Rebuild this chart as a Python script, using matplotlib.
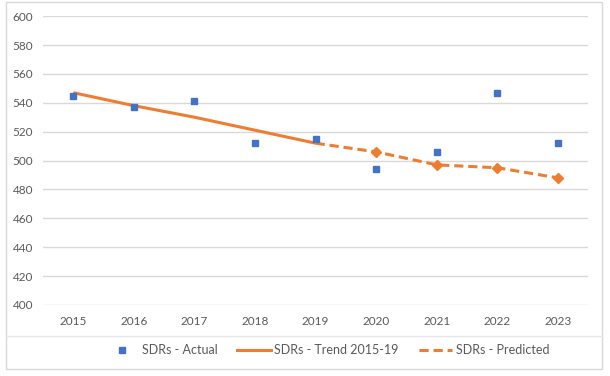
"""SDRs actual vs trend vs predicted chart."""

import matplotlib.pyplot as plt
from matplotlib.lines import Line2D
from matplotlib.patches import Rectangle

years = ['2015', '2016', '2017', '2018', '2019', '2020', '2021', '2022', '2023']
actual = [545, 537, 541, 512, 515, 494, 506, 547, 512]
trend_years = ['2015', '2016', '2017', '2018', '2019']
trend = [547, 538, 530, 521, 512]
pred_years = ['2019', '2020', '2021', '2022', '2023']
predicted = [512, 506, 497, 495, 488]

BLUE = '#4472C4'
ORANGE = '#ED7D31'
GRID = '#D9D9D9'
TEXT = '#595959'

plt.rcParams['font.family'] = ['Lato', 'DejaVu Sans']

fig = plt.figure(figsize=(6.1, 3.76), dpi=100)
ax = fig.add_axes([0.0705, 0.189, 0.894, 0.768])

x_all = list(range(len(years)))
x_trend = [years.index(y) for y in trend_years]
x_pred = [years.index(y) for y in pred_years]

ax.plot(x_pred, predicted, color=ORANGE, linewidth=2.2, linestyle=(0, (3, 1.6)),
        marker='D', markersize=5, markevery=list(range(1, len(pred_years))),
        zorder=2)
ax.plot(x_trend, trend, color=ORANGE, linewidth=2.2, solid_capstyle='butt', zorder=3)
ax.plot(x_all, actual, linestyle='none', marker='s', markersize=5,
        color=BLUE, zorder=4)

ax.set_xlim(-0.5, len(years) - 0.5)
ax.set_ylim(400, 600)
ax.set_yticks(range(400, 601, 20))
ax.set_xticks(x_all)
ax.set_xticklabels(years)
ax.grid(axis='y', color=GRID, linewidth=1)
ax.set_axisbelow(True)
for s in ax.spines.values():
    s.set_visible(False)
ax.tick_params(length=0, labelsize=8.5, colors=TEXT)
ax.tick_params(axis='x', pad=8)
ax.tick_params(axis='y', pad=7)

# chart border and legend separator
fig.patches.append(Rectangle((6 / 610, 7 / 376), 596 / 610, 367 / 376,
                             transform=fig.transFigure, fill=False,
                             edgecolor=GRID, linewidth=1))
fig.add_artist(Line2D([6 / 610, 602 / 610], [1 - 336 / 376, 1 - 336 / 376],
                      transform=fig.transFigure, color='#E6E6E6', linewidth=1))

handles = [
    Line2D([], [], linestyle='none', marker='s', markersize=5, color=BLUE),
    Line2D([], [], color=ORANGE, linewidth=2.2),
    Line2D([], [], color=ORANGE, linewidth=2.2, linestyle=(0, (3, 1.6))),
]
labels = ['SDRs - Actual', 'SDRs - Trend 2015-19', 'SDRs - Predicted']
fig.legend(handles, labels, loc='center', bbox_to_anchor=(0.536, 1 - 350 / 376),
           ncol=3, frameon=False, fontsize=9, labelcolor=TEXT,
           handlelength=2.7, columnspacing=1.6, handletextpad=0.25)

fig.savefig('out.png', dpi=100)
plt.close(fig)
